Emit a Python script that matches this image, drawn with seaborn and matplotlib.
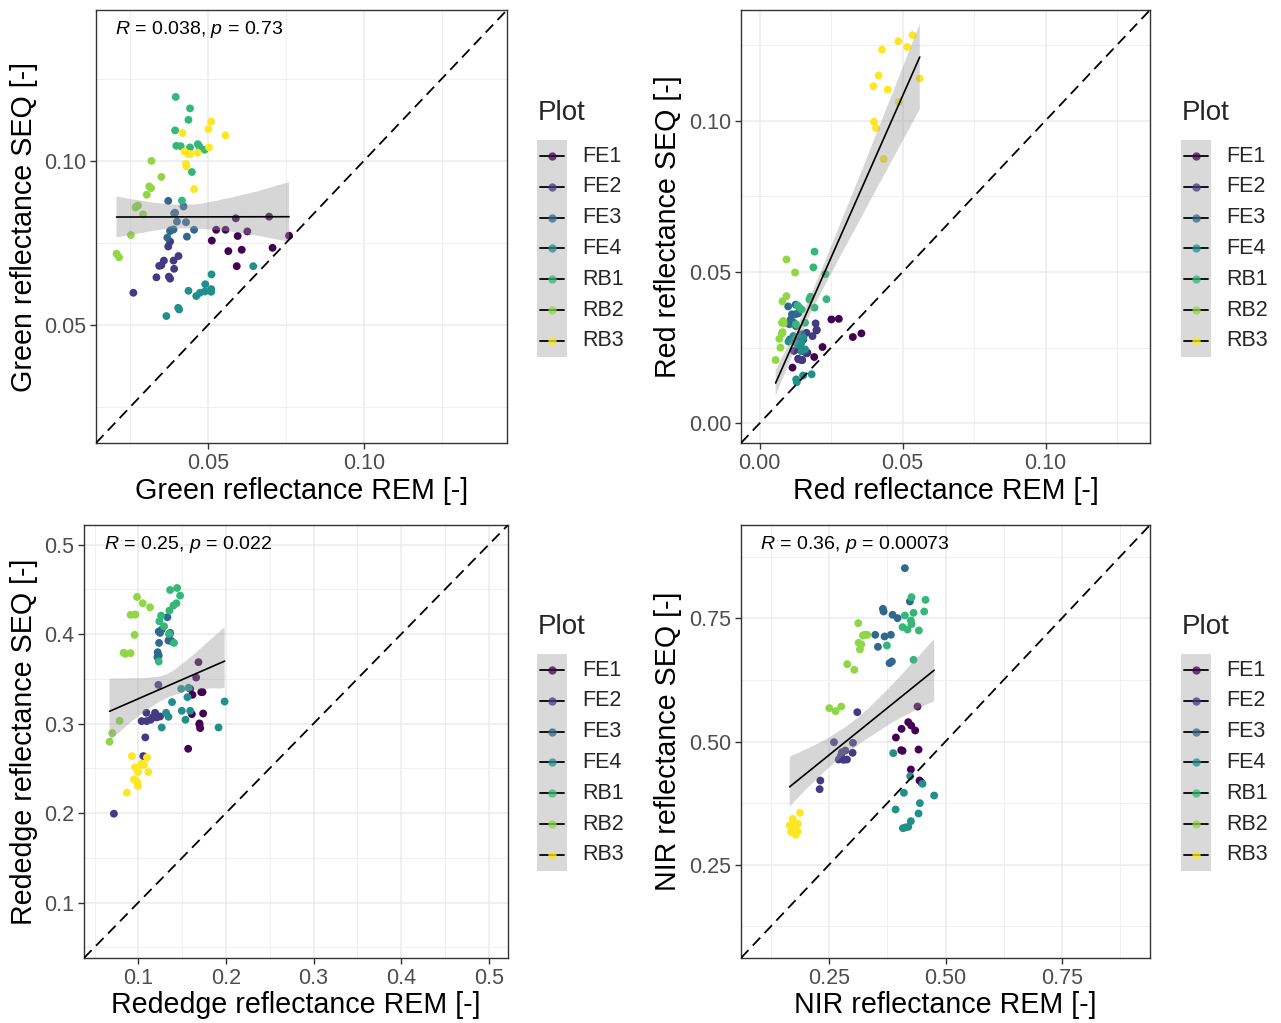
import numpy as np
import pandas as pd
import matplotlib
matplotlib.use("Agg")
import matplotlib.pyplot as plt
import seaborn as sns
from matplotlib.lines import Line2D
from matplotlib.patches import Rectangle

# ---------------- data ----------------
plots = ["FE1", "FE2", "FE3", "FE4", "RB1", "RB2", "RB3"]
n_per_plot = 12
palette = ["#440154", "#443A83", "#31688E", "#21908C", "#35B779", "#8FD744", "#FDE725"]

green_rem = [0.0512, 0.0565, 0.0608, 0.0592, 0.0707, 0.0760, 0.0526, 0.0556, 0.0626, 0.0595, 0.0589, 0.0696,
             0.0260, 0.0334, 0.0378, 0.0374, 0.0343, 0.0350, 0.0391, 0.0358, 0.0389, 0.0405, 0.0372, 0.0378,
             0.0369, 0.0380, 0.0389, 0.0372, 0.0432, 0.0455, 0.0391, 0.0400, 0.0429, 0.0421, 0.0378, 0.0394,
             0.0366, 0.0404, 0.0407, 0.0437, 0.0462, 0.0474, 0.0490, 0.0491, 0.0510, 0.0510, 0.0511, 0.0645,
             0.0396, 0.0442, 0.0437, 0.0394, 0.0398, 0.0412, 0.0442, 0.0467, 0.0472, 0.0489, 0.0448, 0.0416,
             0.0206, 0.0214, 0.0252, 0.0291, 0.0270, 0.0275, 0.0303, 0.0311, 0.0317, 0.0350, 0.0318, 0.0267,
             0.0510, 0.0501, 0.0556, 0.0418, 0.0503, 0.0424, 0.0435, 0.0442, 0.0466, 0.0429, 0.0431, 0.0455]
green_seq = [0.0757, 0.0725, 0.0729, 0.0679, 0.0735, 0.0772, 0.0790, 0.0790, 0.0785, 0.0771, 0.0825, 0.0830,
             0.0598, 0.0645, 0.0641, 0.0647, 0.0680, 0.0682, 0.0671, 0.0696, 0.0696, 0.0710, 0.0739, 0.0754,
             0.0766, 0.0789, 0.0791, 0.0878, 0.0769, 0.0790, 0.0840, 0.0815, 0.0813, 0.0861, 0.0786, 0.0842,
             0.0527, 0.0552, 0.0547, 0.0604, 0.0588, 0.0598, 0.0602, 0.0624, 0.0609, 0.0601, 0.0654, 0.0679,
             0.1195, 0.1160, 0.1125, 0.1093, 0.1046, 0.1045, 0.1041, 0.1051, 0.1044, 0.1034, 0.0966, 0.0879,
             0.0717, 0.0706, 0.0774, 0.0837, 0.0861, 0.0864, 0.0897, 0.0922, 0.0917, 0.0951, 0.1000, 0.0858,
             0.1120, 0.1097, 0.1078, 0.1085, 0.1041, 0.1028, 0.1021, 0.1021, 0.1025, 0.0991, 0.0983, 0.0914]

red_rem = [0.0251, 0.0277, 0.0326, 0.0356, 0.0220, 0.0191, 0.0149, 0.0115, 0.0199, 0.0147, 0.0167, 0.0135,
           0.0196, 0.0185, 0.0164, 0.0147, 0.0137, 0.0120, 0.0164, 0.0148, 0.0200, 0.0130, 0.0153, 0.0139,
           0.0100, 0.0126, 0.0113, 0.0125, 0.0109, 0.0104, 0.0135, 0.0120, 0.0148, 0.0141, 0.0106, 0.0127,
           0.0128, 0.0152, 0.0182, 0.0130, 0.0101, 0.0146, 0.0141, 0.0153, 0.0118, 0.0147, 0.0130, 0.0159,
           0.0192, 0.0188, 0.0230, 0.0234, 0.0178, 0.0192, 0.0139, 0.0147, 0.0159, 0.0127, 0.0174, 0.0133,
           0.0094, 0.0124, 0.0094, 0.0080, 0.0078, 0.0083, 0.0080, 0.0078, 0.0069, 0.0073, 0.0056, 0.0084,
           0.0535, 0.0485, 0.0516, 0.0428, 0.0416, 0.0560, 0.0398, 0.0448, 0.0487, 0.0400, 0.0407, 0.0434]
red_seq = [0.0343, 0.0345, 0.0285, 0.0297, 0.0252, 0.0219, 0.0209, 0.0184, 0.0307, 0.0239, 0.0233, 0.0213,
           0.0330, 0.0288, 0.0299, 0.0239, 0.0211, 0.0239, 0.0231, 0.0209, 0.0309, 0.0266, 0.0277, 0.0244,
           0.0386, 0.0392, 0.0360, 0.0360, 0.0343, 0.0327, 0.0363, 0.0332, 0.0294, 0.0277, 0.0277, 0.0321,
           0.0145, 0.0158, 0.0162, 0.0136, 0.0270, 0.0266, 0.0255, 0.0283, 0.0288, 0.0239, 0.0263, 0.0244,
           0.0567, 0.0515, 0.0493, 0.0410, 0.0418, 0.0382, 0.0382, 0.0376, 0.0332, 0.0327, 0.0409, 0.0389,
           0.0541, 0.0498, 0.0420, 0.0403, 0.0332, 0.0338, 0.0301, 0.0296, 0.0279, 0.0250, 0.0209, 0.0330,
           0.1282, 0.1262, 0.1243, 0.1234, 0.1149, 0.1139, 0.1113, 0.1102, 0.1061, 0.0996, 0.0975, 0.0873]

rededge_rem = [0.1569, 0.1618, 0.1698, 0.1706, 0.1740, 0.1611, 0.1718, 0.1687, 0.1660, 0.1592, 0.1733, 0.1698,
               0.0721, 0.1080, 0.1057, 0.1092, 0.1038, 0.1095, 0.1141, 0.1191, 0.1210, 0.1248, 0.1229, 0.1164,
               0.1233, 0.1248, 0.1237, 0.1332, 0.1221, 0.1233, 0.1363, 0.1344, 0.1382, 0.1218, 0.1267, 0.1355,
               0.1985, 0.1916, 0.1267, 0.1317, 0.1344, 0.1385, 0.1496, 0.1592, 0.1538, 0.1561, 0.1573, 0.1489,
               0.1363, 0.1443, 0.1477, 0.1435, 0.1401, 0.1355, 0.1260, 0.1240, 0.1294, 0.1351, 0.1408, 0.1233,
               0.0985, 0.1050, 0.1134, 0.0912, 0.0966, 0.0958, 0.0832, 0.0851, 0.0912, 0.0786, 0.0702, 0.0672,
               0.0927, 0.1099, 0.0962, 0.1000, 0.1038, 0.1065, 0.0996, 0.1115, 0.0950, 0.0989, 0.0996, 0.0870]
rededge_seq = [0.2719, 0.3322, 0.2987, 0.2950, 0.3113, 0.3106, 0.3352, 0.3687, 0.3515, 0.3389, 0.3352, 0.3002,
               0.1993, 0.2846, 0.2637, 0.3121, 0.3028, 0.3028, 0.3043, 0.3121, 0.3069, 0.3080, 0.3433, 0.3069,
               0.4029, 0.4014, 0.3902, 0.4189, 0.3798, 0.3761, 0.4014, 0.3928, 0.3921, 0.3742, 0.4051, 0.3992,
               0.3247, 0.2957, 0.2957, 0.3121, 0.3076, 0.3240, 0.3143, 0.3143, 0.3043, 0.3296, 0.3400, 0.3389,
               0.4494, 0.4516, 0.4431, 0.4345, 0.4319, 0.4263, 0.4207, 0.4144, 0.4088, 0.4003, 0.3902, 0.3694,
               0.4416, 0.4345, 0.4300, 0.4215, 0.4219, 0.3992, 0.3791, 0.3780, 0.3787, 0.3032, 0.2894, 0.2797,
               0.2637, 0.2622, 0.2511, 0.2503, 0.2552, 0.2540, 0.2459, 0.2459, 0.2377, 0.2347, 0.2302, 0.2228]

nir_rem = [0.4398, 0.4198, 0.4262, 0.4054, 0.4348, 0.3933, 0.4047, 0.4076, 0.4420, 0.4255, 0.4441, 0.4477,
           0.3102, 0.2600, 0.3009, 0.2844, 0.2772, 0.3001, 0.2701, 0.2808, 0.2880, 0.2307, 0.2292, 0.2751,
           0.4126, 0.4234, 0.3653, 0.3668, 0.3861, 0.3968, 0.3489, 0.3689, 0.3825, 0.3546, 0.3797, 0.3847,
           0.3875, 0.4241, 0.4506, 0.4105, 0.4756, 0.3926, 0.4448, 0.4420, 0.4255, 0.4083, 0.4133, 0.4198,
           0.4269, 0.4570, 0.4542, 0.4312, 0.4126, 0.4255, 0.4269, 0.4076, 0.4183, 0.4427, 0.3739, 0.4312,
           0.3123, 0.3223, 0.3317, 0.3130, 0.3188, 0.3159, 0.2887, 0.3037, 0.2500, 0.2636, 0.2758, 0.3259,
           0.1870, 0.1712, 0.1648, 0.1827, 0.1755, 0.1676, 0.1805, 0.1777, 0.1734, 0.1820, 0.1741, 0.1698]
nir_seq = [0.5711, 0.5393, 0.5325, 0.5257, 0.5224, 0.5081, 0.4824, 0.4810, 0.4837, 0.4431, 0.4207, 0.4173,
           0.5596, 0.4986, 0.4973, 0.4817, 0.4783, 0.4770, 0.4634, 0.4627, 0.4634, 0.4207, 0.4031, 0.4715,
           0.8523, 0.7846, 0.7696, 0.7642, 0.7575, 0.7507, 0.7168, 0.7134, 0.7168, 0.6924, 0.6592, 0.6626,
           0.4763, 0.4295, 0.4140, 0.3957, 0.3902, 0.3618, 0.3747, 0.3537, 0.3381, 0.3238, 0.3252, 0.3266,
           0.7934, 0.7879, 0.7642, 0.7615, 0.7561, 0.7459, 0.7385, 0.7324, 0.7276, 0.7256, 0.6951, 0.6660,
           0.7405, 0.7154, 0.7168, 0.7005, 0.6972, 0.6870, 0.6572, 0.6457, 0.5678, 0.5617, 0.5711, 0.7168,
           0.3550, 0.3428, 0.3293, 0.3327, 0.3245, 0.3157, 0.3157, 0.3103, 0.3211, 0.3171, 0.3293, 0.3259]

annotations = [r"$\it{R}$ = 0.038, $\it{p}$ = 0.73", None,
               r"$\it{R}$ = 0.25, $\it{p}$ = 0.022", r"$\it{R}$ = 0.36, $\it{p}$ = 0.00073"]

# ---------------- style ----------------
sns.set_theme(style="white")
plt.rcParams["font.family"] = ["Liberation Sans", "DejaVu Sans"]
plt.rcParams["mathtext.fontset"] = "custom"
plt.rcParams["mathtext.rm"] = "Liberation Sans"
plt.rcParams["mathtext.it"] = "Liberation Sans:italic"

W, H = 1281, 1023
fig = plt.figure(figsize=(W / 100, H / 100), dpi=100)
fig.patch.set_facecolor("white")

def fx(px):
    return px / W

def fy(py):
    return 1 - py / H

plot_col = np.repeat(plots, n_per_plot)

panels = [
    dict(rect=(96, 10, 507, 443), x=green_rem, y=green_seq,
         xl="Green reflectance REM [-]", yl="Green reflectance SEQ [-]",
         lim=(0.02, 0.14), major=[0.05, 0.10], minor=[0.025, 0.075, 0.125], fmt="{:.2f}",
         ylab_x=24, leg=(537, 113)),
    dict(rect=(741, 10, 1150, 443), x=red_rem, y=red_seq,
         xl="Red reflectance REM [-]", yl="Red reflectance SEQ [-]",
         lim=(0.0, 0.13), major=[0.0, 0.05, 0.10], minor=[0.025, 0.075, 0.125], fmt="{:.2f}",
         ylab_x=668, leg=(1181, 113)),
    dict(rect=(84, 525, 508, 958), x=rededge_rem, y=rededge_seq,
         xl="Rededge reflectance REM [-]", yl="Rededge reflectance SEQ [-]",
         lim=(0.06, 0.50), major=[0.1, 0.2, 0.3, 0.4, 0.5], minor=[0.05, 0.15, 0.25, 0.35, 0.45], fmt="{:.1f}",
         ylab_x=24, leg=(537, 627)),
    dict(rect=(741, 525, 1150, 958), x=nir_rem, y=nir_seq,
         xl="NIR reflectance REM [-]", yl="NIR reflectance SEQ [-]",
         lim=(0.10, 0.90), major=[0.25, 0.50, 0.75], minor=[0.125, 0.375, 0.625, 0.875], fmt="{:.2f}",
         ylab_x=668, leg=(1181, 627)),
]

for i, p in enumerate(panels):
    x0, y0, x1, y1 = p["rect"]
    ax = fig.add_axes([fx(x0), fy(y1), (x1 - x0) / W, (y1 - y0) / H])
    df = pd.DataFrame({"rem": p["x"], "seq": p["y"], "Plot": plot_col})
    lo, hi = p["lim"]
    pad = (hi - lo) * 0.05
    L = (lo - pad, hi + pad)

    ax.set_axisbelow(True)
    sns.scatterplot(data=df, x="rem", y="seq", hue="Plot", hue_order=plots, palette=palette,
                    s=32, linewidth=0, legend=False, ax=ax, zorder=2)
    sns.regplot(data=df, x="rem", y="seq", scatter=False, ci=95, n_boot=2000, seed=3,
                color="black", line_kws=dict(lw=1.2, zorder=4), ax=ax, truncate=True)
    for coll in ax.collections[1:]:
        coll.set_alpha(None)
        coll.set_facecolor((0.6, 0.6, 0.6, 0.4))
        coll.set_edgecolor("none")
        coll.set_zorder(3)
    ax.axline((L[0], L[0]), (L[1], L[1]), color="black", lw=1.3, ls=(0, (6, 3.5)), zorder=5)

    ax.set_xlim(L)
    ax.set_ylim(L)
    ax.set_xticks(p["major"])
    ax.set_yticks(p["major"])
    ax.set_xticks(p["minor"], minor=True)
    ax.set_yticks(p["minor"], minor=True)
    ax.set_xticklabels([p["fmt"].format(v) for v in p["major"]])
    ax.set_yticklabels([p["fmt"].format(v) for v in p["major"]])
    ax.grid(True, which="major", color="#EBEBEB", lw=1.1)
    ax.grid(True, which="minor", color="#F0F0F0", lw=0.7)
    ax.tick_params(axis="both", which="major", length=4, width=1, color="#333333",
                   labelsize=15.5, labelcolor="#4D4D4D", pad=3, bottom=True, left=True)
    ax.tick_params(axis="both", which="minor", length=0)
    for s in ax.spines.values():
        s.set_color("#333333")
        s.set_linewidth(1.0)
    ax.set_xlabel("")
    ax.set_ylabel("")

    fig.text(fx((x0 + x1) / 2), fy(491 if i < 2 else 1005), p["xl"], ha="center", va="center",
             fontsize=20.6, color="black")
    fig.text(fx(p["ylab_x"]), fy((y0 + y1) / 2), p["yl"], ha="center", va="center",
             rotation=90, fontsize=20.6, color="black")

    if annotations[i]:
        ax.text(0.046, 0.956, annotations[i], transform=ax.transAxes, ha="left", va="center",
                fontsize=14, color="black")

    # legend
    lx, ly = p["leg"]
    fig.text(fx(lx + 1), fy(ly), "Plot", ha="left", va="center", fontsize=20)
    fig.add_artist(Rectangle((fx(lx), fy(ly + 244)), 30 / W, 217 / H,
                             transform=fig.transFigure, facecolor="#D9D9D9", edgecolor="none"))
    for k, (lab, col) in enumerate(zip(plots, palette)):
        yy = ly + 43 + k * 30.8
        fig.add_artist(Line2D([fx(lx + 3), fx(lx + 27)], [fy(yy), fy(yy)], color="black", lw=1.3,
                              transform=fig.transFigure))
        fig.add_artist(Line2D([fx(lx + 15)], [fy(yy)], marker="o", ms=6, color=col, mec="none",
                              alpha=0.75, transform=fig.transFigure))
        fig.text(fx(lx + 45), fy(yy), lab, ha="left", va="center", fontsize=15.5)

fig.savefig("out.png", dpi=100, facecolor="white")
